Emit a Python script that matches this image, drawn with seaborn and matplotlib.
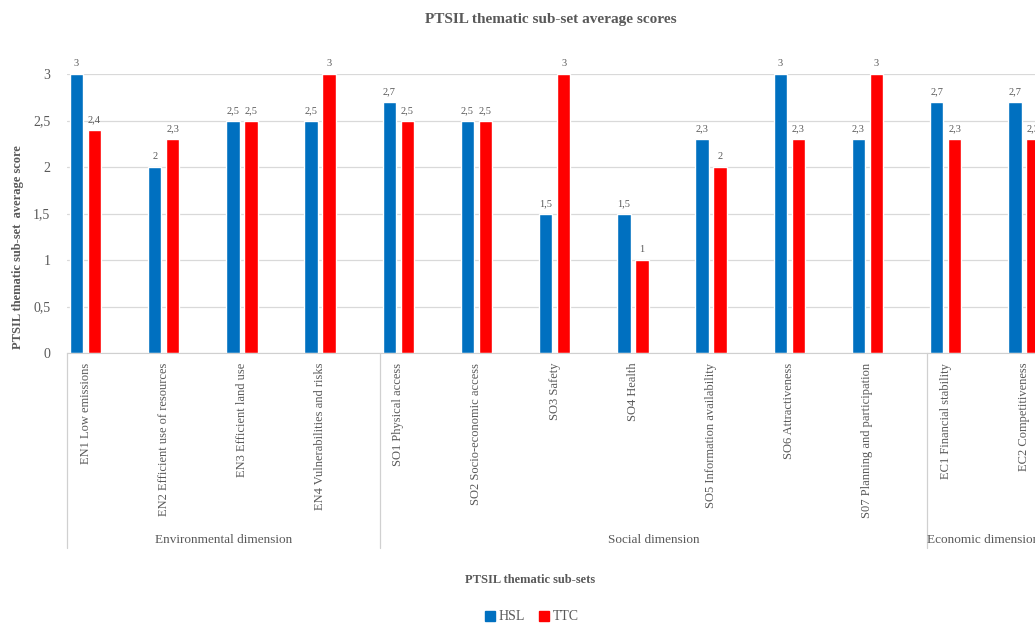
import numpy as np
import pandas as pd
import matplotlib
matplotlib.use("Agg")
import matplotlib.pyplot as plt
import matplotlib.transforms as mtransforms
import seaborn as sns

categories = ["EN1 Low emissions", "EN2 Efficient use of resources", "EN3 Efficient land use",
              "EN4 Vulnerabilities and risks", "SO1 Physical access", "SO2 Socio-economic access",
              "SO3 Safety", "SO4 Health", "SO5 Information availability", "SO6 Attractiveness",
              "S07 Planning and participation", "EC1 Financial stability", "EC2 Competitiveness"]
hsl = [3, 2, 2.5, 2.5, 2.7, 2.5, 1.5, 1.5, 2.3, 3, 2.3, 2.7, 2.7]
ttc = [2.4, 2.3, 2.5, 3, 2.5, 2.5, 3, 1, 2, 2.3, 3, 2.3, 2.3]
groups = ["Environmental dimension", "Social dimension", "Economic dimension"]
group_start = [0, 4, 11]
yticks = [0, 0.5, 1, 1.5, 2, 2.5, 3]

df = pd.DataFrame({
    "sub-set": categories * 2,
    "series": ["HSL"] * len(categories) + ["TTC"] * len(categories),
    "score": hsl + ttc,
})

sns.set_style("white")
plt.rcParams['font.family'] = ['Liberation Serif', 'DejaVu Serif']
grey = "#595959"

fig = plt.figure(figsize=(10.35, 6.23), dpi=100)
ax = fig.add_axes([67 / 1035, 270 / 623, 973 / 1035, 279 / 623])

sns.barplot(data=df, x="sub-set", y="score", hue="series", order=categories,
            palette={"HSL": "#0070C0", "TTC": "#FF0000"}, width=0.46, gap=0.25,
            saturation=1, ax=ax, legend=True)

for cont in ax.containers:
    labs = [f"{v:g}".replace(".", ",") for v in cont.datavalues]
    ax.bar_label(cont, labels=labs, padding=4, fontsize=7.5, color=grey, clip_on=False)

xmin = -0.2366
ax.set_xlim(xmin, 12.206)
ax.set_ylim(0, 3)
ax.set_yticks(yticks)
ax.set_yticklabels([f"{v:g}".replace(".", ",") for v in yticks], fontsize=10, color=grey)
ax.yaxis.grid(True, color="#D9D9D9", lw=0.9)
ax.set_axisbelow(True)
for s in ["top", "right", "left"]:
    ax.spines[s].set_visible(False)
ax.spines["bottom"].set_color("#D0D0D0")
ax.tick_params(axis="y", length=0, pad=12)
ax.tick_params(axis="x", length=0, pad=7)
ax.set_xticks(range(len(categories)))
ax.set_xticklabels(categories, rotation=90, fontsize=9, color=grey)
ax.set_xlabel("")
ax.set_ylabel("")

# group separators and labels
trans = mtransforms.blended_transform_factory(ax.transData, ax.transAxes)
seps = [g + xmin for g in group_start] + [len(categories) + xmin]
for x in seps:
    ax.plot([x, x], [0, -0.7], transform=trans, color="#D0D0D0", lw=0.9, clip_on=False)
xr = ax.get_xlim()[1]
for i, g in enumerate(groups):
    a, b = seps[i], min(seps[i + 1], xr)
    ax.text((a + b) / 2, -0.67, g, transform=trans, ha="center", va="center",
            fontsize=9.5, color=grey)

ax.get_legend().remove()
handles = [plt.Rectangle((0, 0), 1, 1, color=c) for c in ["#0070C0", "#FF0000"]]
fig.legend(handles, ["HSL", "TTC"], loc="center", bbox_to_anchor=(532 / 1035, 1 - 617 / 623),
           ncol=2, frameon=False, fontsize=10, handlelength=0.7, handleheight=0.7,
           handletextpad=0.3, columnspacing=1.0, labelcolor=grey)

fig.text(551 / 1035, 1 - 20 / 623, "PTSIL thematic sub-set average scores", ha="center",
         va="center", fontsize=11, fontweight="bold", color=grey)
fig.text(530 / 1035, 1 - 580 / 623, "PTSIL thematic sub-sets", ha="center", va="center",
         fontsize=9, fontweight="bold", color=grey)
fig.text(18 / 1035, 1 - 247 / 623, "PTSIL thematic sub-set  average score", ha="center",
         va="center", rotation=90, fontsize=9, fontweight="bold", color=grey)

fig.savefig("out.png", dpi=100)
